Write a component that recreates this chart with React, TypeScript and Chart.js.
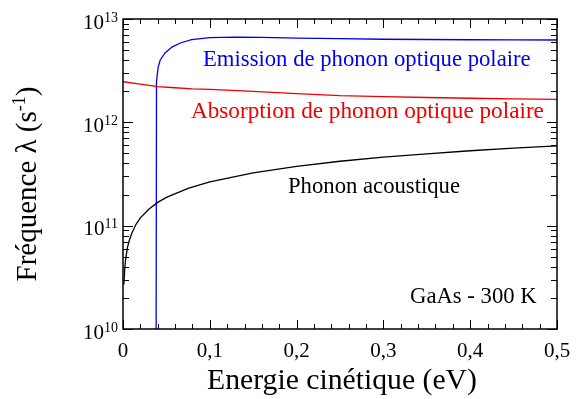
import React, { useEffect, useRef } from "react";
import { Chart, registerables } from "chart.js";

Chart.register(...registerables);

// Acoustic phonon scattering rate
const acousticEnergy = [0.001, 0.002, 0.003, 0.005, 0.0075, 0.01, 0.015, 0.02, 0.03, 0.04, 0.05, 0.075, 0.1, 0.15, 0.2, 0.25, 0.3, 0.35, 0.4, 0.45, 0.5];
const acousticRate = [2.7e10, 3.8e10, 4.7e10, 6.1e10, 7.3e10, 8.4e10, 1.03e11, 1.19e11, 1.45e11, 1.68e11, 1.88e11, 2.3e11, 2.65e11, 3.25e11, 3.75e11, 4.2e11, 4.6e11, 4.96e11, 5.31e11, 5.63e11, 5.93e11];

// Polar optical phonon absorption
const absorptionEnergy = [0, 0.02, 0.04, 0.06, 0.08, 0.1, 0.15, 0.2, 0.25, 0.3, 0.35, 0.4, 0.45, 0.5];
const absorptionRate = [2.47e12, 2.34e12, 2.22e12, 2.16e12, 2.11e12, 2.08e12, 1.99e12, 1.9e12, 1.81e12, 1.77e12, 1.74e12, 1.71e12, 1.69e12, 1.67e12];

// Polar optical phonon emission (zero below threshold ~0.038 eV)
const emissionEnergy = [0.038, 0.0386, 0.0405, 0.043, 0.0487, 0.0564, 0.066, 0.079, 0.1, 0.13, 0.16, 0.2, 0.25, 0.3, 0.35, 0.4, 0.45, 0.5];
const emissionRate = [1e9, 2.5e12, 3.4e12, 4.04e12, 4.72e12, 5.35e12, 5.86e12, 6.31e12, 6.6e12, 6.68e12, 6.65e12, 6.52e12, 6.45e12, 6.37e12, 6.33e12, 6.3e12, 6.28e12, 6.26e12];

const xTicks = [0, 0.1, 0.2, 0.3, 0.4, 0.5];
const xTickLabels = ["0", "0,1", "0,2", "0,3", "0,4", "0,5"];
const yDecades = [10, 11, 12, 13];

const SERIF = '"Liberation Serif", "Times New Roman", serif';
const BLUE = "#0000ee";
const RED = "#ee0000";

const framePlugin = {
  id: "frame",
  afterDraw(chart: any) {
    const ctx = chart.ctx as CanvasRenderingContext2D;
    const { left, right, top, bottom } = chart.chartArea;
    const xs = chart.scales.x;
    const ys = chart.scales.y;
    ctx.save();
    ctx.strokeStyle = "#000";
    // ticks
    ctx.lineWidth = 1;
    const majorLen = 9;
    const minorLen = 5;
    ctx.beginPath();
    for (let i = 0; i <= 25; i++) {
      const v = i * 0.02;
      const px = Math.round(xs.getPixelForValue(v)) + 0.5;
      const len = i % 5 === 0 ? majorLen : minorLen;
      ctx.moveTo(px, bottom);
      ctx.lineTo(px, bottom - len);
      ctx.moveTo(px, top);
      ctx.lineTo(px, top + len);
    }
    for (let d = 10; d <= 13; d++) {
      for (let m = 1; m <= 9; m++) {
        if (d === 13 && m > 1) break;
        const v = m * Math.pow(10, d);
        const py = Math.round(ys.getPixelForValue(v)) + 0.5;
        const len = m === 1 ? majorLen + 1 : minorLen + 1;
        ctx.moveTo(left, py);
        ctx.lineTo(left + len, py);
        ctx.moveTo(right, py);
        ctx.lineTo(right - len, py);
      }
    }
    ctx.stroke();
    // frame
    ctx.lineWidth = 1.5;
    ctx.strokeRect(left, top, right - left, bottom - top);

    // x tick labels
    ctx.fillStyle = "#000";
    ctx.font = `21px ${SERIF}`;
    ctx.textAlign = "center";
    ctx.textBaseline = "alphabetic";
    xTicks.forEach((v, i) => {
      ctx.fillText(xTickLabels[i], xs.getPixelForValue(v), bottom + 28);
    });

    // y tick labels 10^n
    yDecades.forEach((d) => {
      const py = ys.getPixelForValue(Math.pow(10, d));
      const sup = String(d);
      ctx.font = `14px ${SERIF}`;
      const supW = ctx.measureText(sup).width;
      const rightEdge = left - 5;
      ctx.textAlign = "left";
      ctx.fillText(sup, rightEdge - supW, py + 2.5);
      ctx.font = `21px ${SERIF}`;
      ctx.textAlign = "right";
      ctx.fillText("10", rightEdge - supW, py + 9.5);
    });

    // x title
    ctx.font = `29.7px ${SERIF}`;
    ctx.textAlign = "center";
    ctx.fillText("Energie cinétique (eV)", 342, 389);

    // y title (rotated)
    ctx.save();
    ctx.translate(36, 184);
    ctx.rotate(-Math.PI / 2);
    const p1 = "Fréquence λ (s";
    const p2 = "-1";
    const p3 = ")";
    ctx.font = `29px ${SERIF}`;
    const w1 = ctx.measureText(p1).width;
    const w3 = ctx.measureText(p3).width;
    ctx.font = `18px ${SERIF}`;
    const w2 = ctx.measureText(p2).width;
    let x0 = -(w1 + w2 + w3) / 2;
    ctx.textAlign = "left";
    ctx.font = `29px ${SERIF}`;
    ctx.fillText(p1, x0, 0);
    x0 += w1;
    ctx.font = `18px ${SERIF}`;
    ctx.fillText(p2, x0, -11);
    x0 += w2;
    ctx.font = `29px ${SERIF}`;
    ctx.fillText(p3, x0, 0);
    ctx.restore();

    // annotations
    ctx.textAlign = "left";
    ctx.font = `22.7px ${SERIF}`;
    ctx.fillStyle = BLUE;
    ctx.fillText("Emission de phonon optique polaire", 203, 66);
    ctx.font = `23.2px ${SERIF}`;
    ctx.fillStyle = RED;
    ctx.fillText("Absorption de phonon optique polaire", 191, 118);
    ctx.font = `22.7px ${SERIF}`;
    ctx.fillStyle = "#000";
    ctx.fillText("Phonon acoustique", 288, 193);
    ctx.fillText("GaAs - 300 K", 410, 303);
    ctx.restore();
  },
};

function toPoints(xs: number[], ys: number[]) {
  return xs.map((x, i) => ({ x, y: ys[i] }));
}

export default function App() {
  const canvasRef = useRef<HTMLCanvasElement | null>(null);
  useEffect(() => {
    document.body.style.margin = "0";
    const canvas = canvasRef.current;
    if (!canvas) return;
    const chart = new Chart(canvas, {
      type: "line",
      data: {
        datasets: [
          {
            label: "Phonon acoustique",
            data: toPoints(acousticEnergy, acousticRate),
            borderColor: "#000",
            borderWidth: 1.3,
            pointRadius: 0,
            tension: 0,
          },
          {
            label: "Absorption de phonon optique polaire",
            data: toPoints(absorptionEnergy, absorptionRate),
            borderColor: RED,
            borderWidth: 1.3,
            pointRadius: 0,
            tension: 0,
          },
          {
            label: "Emission de phonon optique polaire",
            data: toPoints(emissionEnergy, emissionRate),
            borderColor: BLUE,
            borderWidth: 1.3,
            pointRadius: 0,
            tension: 0,
          },
        ],
      },
      options: {
        animation: false,
        responsive: false,
        devicePixelRatio: 1,
        layout: { padding: { left: 123, right: 24, top: 19, bottom: 70 } },
        plugins: { legend: { display: false }, tooltip: { enabled: false } },
        scales: {
          x: { type: "linear", min: 0, max: 0.5, display: false },
          y: { type: "logarithmic", min: 1e10, max: 1e13, display: false },
        },
      },
      plugins: [framePlugin],
    });
    return () => chart.destroy();
  }, []);
  return (
    <div style={{ position: "fixed", left: 0, top: 0, width: 581, height: 399, background: "#fff" }}>
      <canvas ref={canvasRef} width={581} height={399} />
    </div>
  );
}
